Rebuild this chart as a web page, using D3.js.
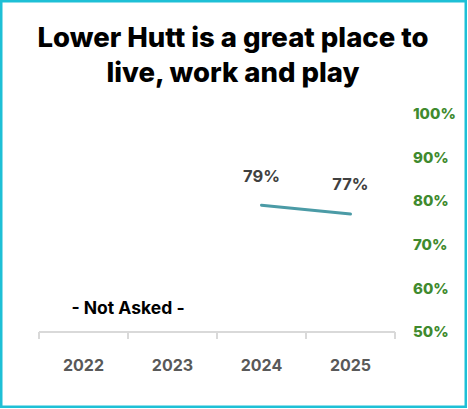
<!DOCTYPE html>
<html>
<head>
<meta charset="utf-8">
<script src="https://cdn.jsdelivr.net/npm/d3@7"></script>
<style>
  html, body { margin: 0; padding: 0; background: #fff; }
  svg { display: block; }
</style>
</head>
<body>
<svg id="chart" width="468" height="409"></svg>
<script>
// Survey years and the share agreeing (null = question not asked)
const years = ["2022", "2023", "2024", "2025"];
const agree = [null, null, 79, 77];
const yTicks = [50, 60, 70, 80, 90, 100];
const titleLines = ["Lower Hutt is a great place to", "live, work and play"];
const notAskedLabel = "- Not Asked -";

const svg = d3.select("#chart");
const W = 468, H = 409;

// Frame
svg.append("rect")
  .attr("x", 1.25).attr("y", 1.25)
  .attr("width", W - 3.5).attr("height", H - 3.5)
  .attr("fill", "#fff")
  .attr("stroke", "#1ec0d6")
  .attr("stroke-width", 2.5);

// Title
const title = svg.append("text")
  .attr("text-anchor", "middle")
  .attr("font-family", "Inter, 'Open Sans', sans-serif")
  .attr("font-weight", 800)
  .attr("font-size", 27.5)
  .attr("fill", "#000");
titleLines.forEach((t, i) => {
  title.append("tspan").attr("x", 233).attr("y", 47 + i * 35).text(t);
});

// Scales
const x = d3.scaleBand().domain(years).range([39, 395]).paddingInner(0).paddingOuter(0);
const y = d3.scaleLinear().domain([50, 100]).range([332, 113.5]);

// Bottom axis
const gx = svg.append("g").attr("transform", `translate(0,${y(50)})`);
gx.append("line")
  .attr("x1", x.range()[0]).attr("x2", x.range()[1])
  .attr("stroke", "#d9d9d9").attr("stroke-width", 2);
const bounds = years.map(d => x(d)).concat([x.range()[1]]);
gx.selectAll("line.tick")
  .data(bounds)
  .join("line")
  .attr("class", "tick")
  .attr("x1", d => d).attr("x2", d => d)
  .attr("y1", 0).attr("y2", 7)
  .attr("stroke", "#d9d9d9").attr("stroke-width", 2);
gx.selectAll("text.year")
  .data(years)
  .join("text")
  .attr("class", "year")
  .attr("x", d => x(d) + x.bandwidth() / 2)
  .attr("y", 39)
  .attr("text-anchor", "middle")
  .attr("font-family", "Inter, 'Open Sans', sans-serif")
  .attr("font-weight", 700)
  .attr("font-size", 16)
  .attr("fill", "#595959")
  .text(d => d);

// Right value axis
const gy = svg.append("g").attr("transform", "translate(413,0)");
gy.selectAll("text")
  .data(yTicks)
  .join("text")
  .attr("x", 0)
  .attr("y", d => y(d))
  .attr("dy", "0.36em")
  .attr("text-anchor", "start")
  .attr("font-family", "Inter, 'Open Sans', sans-serif")
  .attr("font-weight", 800)
  .attr("font-size", 15)
  .attr("fill", "#3f8a2e")
  .text(d => d + "%");

// Trend line
const pts = years.map((d, i) => ({ year: d, v: agree[i] })).filter(d => d.v != null);
const line = d3.line()
  .x(d => x(d.year) + x.bandwidth() / 2)
  .y(d => y(d.v));
svg.append("path")
  .datum(pts)
  .attr("d", line)
  .attr("fill", "none")
  .attr("stroke", "#4b9ba6")
  .attr("stroke-width", 3)
  .attr("stroke-linecap", "round");

// Value labels
svg.selectAll("text.val")
  .data(pts)
  .join("text")
  .attr("class", "val")
  .attr("x", d => x(d.year) + x.bandwidth() / 2)
  .attr("y", (d, i) => y(d.v) - (i === 0 ? 23 : 24))
  .attr("text-anchor", "middle")
  .attr("font-family", "Inter, 'Open Sans', sans-serif")
  .attr("font-weight", 700)
  .attr("font-size", 16.5)
  .attr("fill", "#404040")
  .text(d => d.v + "%");

// Not-asked note over the earlier years
svg.append("text")
  .attr("x", (x("2022") + x("2023") + x.bandwidth()) / 2)
  .attr("y", 314)
  .attr("text-anchor", "middle")
  .attr("font-family", "Inter, 'Open Sans', sans-serif")
  .attr("font-weight", 700)
  .attr("font-size", 17.5)
  .attr("fill", "#000")
  .text(notAskedLabel);
</script>
</body>
</html>
